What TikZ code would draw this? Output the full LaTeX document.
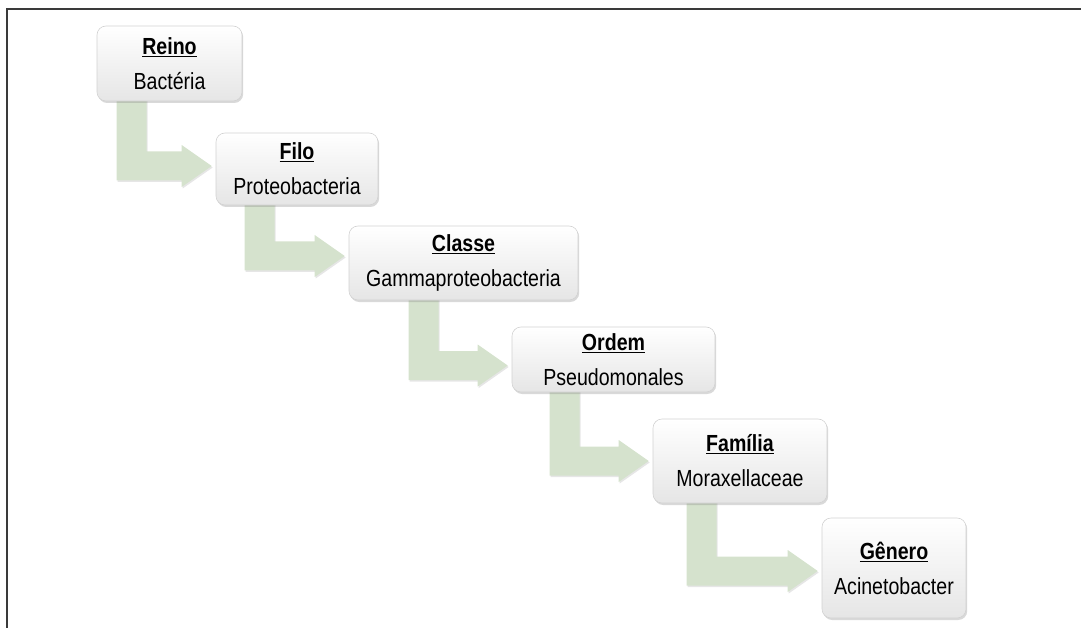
\documentclass[tikz,border=0pt]{standalone}
\usepackage{fontspec}
\setmainfont[FakeStretch=0.84]{Liberation Sans}
\usetikzlibrary{calc,shadows,backgrounds}
\definecolor{arrowgreen}{HTML}{D5E2CD}
\definecolor{framegray}{HTML}{3A3A3A}
\tikzset{
 taxbox/.style={rounded corners=9pt, draw=gray!35, line width=0.6pt, top color=white, bottom color=gray!20,
   drop shadow={opacity=0.3, shadow xshift=1.2pt, shadow yshift=-2pt},
   align=center, inner sep=0pt, font=\fontsize{23.3}{35}\selectfont, text=black},
 bentarrow/.style={fill=arrowgreen, draw=none, drop shadow={opacity=0.2, shadow xshift=1pt, shadow yshift=-1.5pt}},
 framestyle/.style={draw=framegray, line width=2pt}
}
\newcommand{\taxtitle}[1]{\underline{\textbf{#1}}}
\newcommand{\bentarr}[4]{%
 \path[bentarrow] let \p1=(#1.south west), \p2=(#2.west),
   \n1={\x1+#3pt}, \n2={\x1+#3pt+30pt}, \n3={\y2-(#4)*1pt}, \n4={\x2-34pt}, \n5={\x2-4pt} in
 ({\n1},{\y1+5pt}) -- ({\n2},{\y1+5pt}) -- ({\n2},{\n3+14.5pt})
 -- ({\n4},{\n3+14.5pt}) -- ({\n4},{\n3+21pt}) -- ({\n5},{\n3})
 -- ({\n4},{\n3-21pt}) -- ({\n4},{\n3-14.5pt}) -- ({\n1},{\n3-14.5pt}) -- cycle;}
\begin{document}
\begin{tikzpicture}[x=1pt,y=-1pt]
\useasboundingbox (0,0) rectangle (1081,628);
\coordinate (fbl) at (7,628);
\coordinate (ftl) at (7,9);
\coordinate (ftr) at (1081,9);
\draw[framestyle] (fbl) -- (ftl) -- (ftr);

\node[taxbox, minimum width=145pt, minimum height=75pt] (reino) at (169.5,63.5) {\taxtitle{Reino}\\Bactéria};
\node[taxbox, minimum width=162pt, minimum height=72pt] (filo) at (297,169) {\taxtitle{Filo}\\Proteobacteria};
\node[taxbox, minimum width=229pt, minimum height=74pt] (classe) at (463.5,263) {\taxtitle{Classe}\\Gammaproteobacteria};
\node[taxbox, minimum width=203pt, minimum height=65pt] (ordem) at (613.5,359.5) {\taxtitle{Ordem}\\Pseudomonales};
\node[taxbox, minimum width=174pt, minimum height=84pt] (familia) at (740,461) {\taxtitle{Família}\\Moraxellaceae};
\node[taxbox, minimum width=144pt, minimum height=100pt] (genero) at (894,568) {\taxtitle{Gênero}\\Acinetobacter};

\begin{pgfonlayer}{background}
\bentarr{reino}{filo}{20}{-3}
\bentarr{filo}{classe}{29}{-7}
\bentarr{classe}{ordem}{60}{6}
\bentarr{ordem}{familia}{38}{0}
\bentarr{familia}{genero}{34}{3}
\end{pgfonlayer}
\end{tikzpicture}
\end{document}
